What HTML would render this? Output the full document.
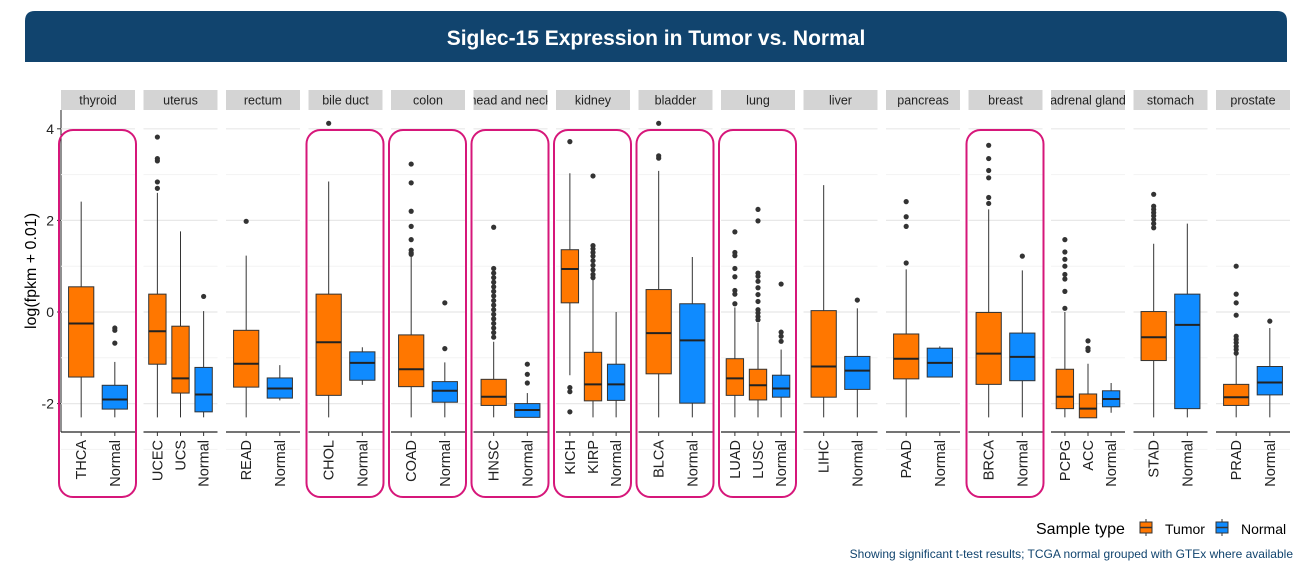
<!DOCTYPE html>
<html><head><meta charset="utf-8">
<style>
body{margin:0;background:#fff;width:1315px;height:574px;overflow:hidden;font-family:"Liberation Sans",sans-serif}
svg text{font-family:"Liberation Sans",sans-serif}
</style></head>
<body>
<svg id="chart" width="1315" height="574" xmlns="http://www.w3.org/2000/svg">
<path d="M25,62 L25,21 Q25,11 35,11 L1277,11 Q1287,11 1287,21 L1287,62 Z" fill="#11446e"/>
<text x="656" y="45" text-anchor="middle" fill="#fff" font-size="21" font-weight="bold">Siglec-15 Expression in Tumor vs. Normal</text>
<text transform="translate(36,271) rotate(-90)" text-anchor="middle" font-size="16" fill="#000">log(fpkm + 0.01)</text>
<g id="plot"></g>
<text x="1036" y="534" font-size="16" fill="#000">Sample type</text>
<g>
<line x1="1146" y1="519" x2="1146" y2="536" stroke="#333" stroke-width="1"/>
<rect x="1140" y="522" width="12" height="11" fill="#ff7700" stroke="#333"/>
<line x1="1140" y1="527.5" x2="1152" y2="527.5" stroke="#333" stroke-width="1.5"/>
<text x="1165" y="534" font-size="14" fill="#000">Tumor</text></g>
<g>
<line x1="1222" y1="519" x2="1222" y2="536" stroke="#333" stroke-width="1"/>
<rect x="1216" y="522" width="12" height="11" fill="#0f8bff" stroke="#333"/>
<line x1="1216" y1="527.5" x2="1228" y2="527.5" stroke="#333" stroke-width="1.5"/>
<text x="1241" y="534" font-size="14" fill="#000">Normal</text></g>
<text x="1293" y="558" text-anchor="end" font-size="12" fill="#11446e">Showing significant t-test results; TCGA normal grouped with GTEx where available</text>
</svg>
<script>
const panels = ["thyroid","uterus","rectum","bile duct","colon","head and neck","kidney","bladder","lung","liver","pancreas","breast","adrenal gland","stomach","prostate"];
const highlighted = [true,false,false,true,true,true,true,true,true,false,false,true,false,false,false];
const categories = [["THCA","Normal"],["UCEC","UCS","Normal"],["READ","Normal"],["CHOL","Normal"],["COAD","Normal"],["HNSC","Normal"],["KICH","KIRP","Normal"],["BLCA","Normal"],["LUAD","LUSC","Normal"],["LIHC","Normal"],["PAAD","Normal"],["BRCA","Normal"],["PCPG","ACC","Normal"],["STAD","Normal"],["PRAD","Normal"]];
// [low whisker, q1, median, q3, high whisker]
const stats = [
 [[-2.3,-1.42,-0.25,0.55,2.41],[-2.3,-2.12,-1.91,-1.6,-1.09]],
 [[-2.3,-1.14,-0.42,0.39,2.6],[-2.3,-1.77,-1.45,-0.31,1.76],[-2.3,-2.18,-1.8,-1.21,0.02]],
 [[-2.3,-1.64,-1.13,-0.4,1.23],[-1.93,-1.88,-1.67,-1.44,-1.16]],
 [[-2.3,-1.82,-0.66,0.39,2.85],[-1.59,-1.49,-1.11,-0.87,-0.77]],
 [[-2.3,-1.63,-1.25,-0.5,1.22],[-2.3,-1.97,-1.72,-1.52,-1.1]],
 [[-2.3,-2.04,-1.85,-1.47,-0.65],[-2.3,-2.3,-2.14,-2.0,-1.77]],
 [[-1.38,0.2,0.94,1.36,3.03],[-2.3,-1.94,-1.58,-0.88,0.71],[-2.3,-1.93,-1.58,-1.14,0.0]],
 [[-2.3,-1.35,-0.46,0.49,3.08],[-2.3,-1.99,-0.62,0.18,1.2]],
 [[-2.3,-1.82,-1.45,-1.02,0.1],[-2.3,-1.92,-1.6,-1.25,-0.24],[-2.3,-1.86,-1.67,-1.38,-0.82]],
 [[-2.3,-1.86,-1.19,0.03,2.77],[-2.3,-1.69,-1.28,-0.97,0.08]],
 [[-2.3,-1.46,-1.02,-0.48,0.93],[-1.42,-1.42,-1.11,-0.79,-0.75]],
 [[-2.3,-1.58,-0.91,-0.01,2.24],[-2.3,-1.5,-0.98,-0.46,0.91]],
 [[-2.3,-2.11,-1.85,-1.25,0.0],[-2.31,-2.31,-2.11,-1.79,-1.13],[-2.2,-2.07,-1.9,-1.72,-1.55]],
 [[-2.3,-1.06,-0.55,0.01,1.49],[-2.3,-2.11,-0.28,0.39,1.93]],
 [[-2.3,-2.04,-1.86,-1.58,-0.9],[-2.3,-1.81,-1.54,-1.19,-0.35]]
];
const outliers = [
 [[],[-0.35,-0.4,-0.68]],
 [[3.82,3.35,3.3,2.84,2.7],[],[0.34]],
 [[1.98],[]],
 [[4.12],[]],
 [[3.23,2.82,2.2,1.87,1.58,1.35,1.29,1.26],[0.2,-0.8]],
 [[1.85,0.95,0.85,0.75,0.65,0.55,0.45,0.35,0.25,0.15,0.05,-0.05,-0.15,-0.25,-0.35,-0.45,-0.55],[-1.14,-1.36,-1.55]],
 [[3.72,-1.65,-1.74,-2.18],[2.97,1.45,1.38,1.3,1.22,1.12,1.02,0.92,0.82,0.75],[]],
 [[4.12,3.41,3.36],[]],
 [[1.75,1.3,1.23,0.95,0.77,0.47,0.39,0.18],[2.24,1.99,0.85,0.78,0.67,0.53,0.38,0.23,0.05,-0.02,-0.1,-0.17],[0.61,-0.44,-0.53,-0.64]],
 [[],[0.26]],
 [[2.41,2.08,1.87,1.07],[]],
 [[3.64,3.35,3.09,2.93,2.5,2.37],[1.22]],
 [[1.58,1.31,1.15,1.0,0.82,0.72,0.45,0.08],[-0.63,-0.79,-0.84],[]],
 [[2.57,2.31,2.24,2.17,2.1,2.02,1.93,1.84],[]],
 [[1.0,0.39,0.2,-0.07,-0.53,-0.6,-0.67,-0.75,-0.82,-0.9],[-0.2]]
];
const yTicks = [-2,0,2,4];
const yMinor = [-3,-1,1,3];

const NS="http://www.w3.org/2000/svg";
const plot=document.getElementById('plot');
function el(tag,attrs,parent){const e=document.createElementNS(NS,tag);for(const k in attrs)e.setAttribute(k,attrs[k]);(parent||plot).appendChild(e);return e;}
const yScale=v=>312-v*45.8;
const panelX=i=>61+i*82.5;
const PW=74, PT=110, PB=432;

const yax=el('g',{});


el('line',{x1:61,y1:PT,x2:61,y2:PB,stroke:'#222','stroke-width':1},yax);
yTicks.forEach(t=>{
  el('line',{x1:57,y1:yScale(t),x2:61,y2:yScale(t),stroke:'#333'},yax);
  const tx=el('text',{x:54,y:yScale(t)+5,'text-anchor':'end','font-size':14,fill:'#222'},yax);
  tx.textContent=String(t);
  
  
});

panels.forEach((name,i)=>{
  const x0=panelX(i);
  const g=el('g',{});
  
  
  yMinor.forEach(t=>el('line',{x1:x0,y1:yScale(t),x2:x0+PW,y2:yScale(t),stroke:'#f3f3f3','stroke-width':1},g));
  yTicks.forEach(t=>el('line',{x1:x0,y1:yScale(t),x2:x0+PW,y2:yScale(t),stroke:'#e8e8e8','stroke-width':1.2},g));
  const strip=el('rect',{x:x0,y:90,width:PW,height:20,fill:'#d4d4d4'},g);
  
  
  const cp=el('clipPath',{id:'c'+i},g);
  el('rect',{x:x0,y:90,width:PW,height:20},cp);
  const st=el('text',{x:x0+PW/2,y:104.5,'text-anchor':'middle','font-size':12.5,fill:'#222','clip-path':'url(#c'+i+')'},g);
  st.textContent=name;
  el('line',{x1:x0,y1:PB,x2:x0+PW,y2:PB,stroke:'#222','stroke-width':1.2},g);
  const cats=categories[i], n=cats.length, span=n-1+1.2;
  const bw=0.75/span*PW;
  cats.forEach((c,j)=>{
    const cx=x0+(0.6+j)/span*PW;
    const s=stats[i][j];
    const fill=c==='Normal'?'#0f8bff':'#ff7700';
    const bg=el('g',{},g);
    
    
    el('line',{x1:cx,y1:yScale(s[0]),x2:cx,y2:yScale(s[4]),stroke:'#333','stroke-width':1},bg);
    el('rect',{x:cx-bw/2,y:yScale(s[3]),width:bw,height:Math.max(0.5,yScale(s[1])-yScale(s[3])),fill:fill,stroke:'#333','stroke-width':1},bg);
    el('line',{x1:cx-bw/2,y1:yScale(s[2]),x2:cx+bw/2,y2:yScale(s[2]),stroke:'#222','stroke-width':2},bg);
    outliers[i][j].forEach(v=>el('circle',{cx:cx,cy:yScale(v),r:2.6,fill:'#333'},bg));
    el('line',{x1:cx,y1:PB,x2:cx,y2:PB+4,stroke:'#333'},g);
    const lt=el('text',{transform:'translate('+(cx+5)+',440) rotate(-90)','text-anchor':'end','font-size':14.5,fill:'#222'},g);
    lt.textContent=c;
    
    
  });
  if(highlighted[i]){
    const hr=el('rect',{x:x0-2,y:130,width:PW+3,height:367,rx:14,ry:14,fill:'none',stroke:'#d6177a','stroke-width':2},g);
    
    
  }
});
</script>
</body></html>
